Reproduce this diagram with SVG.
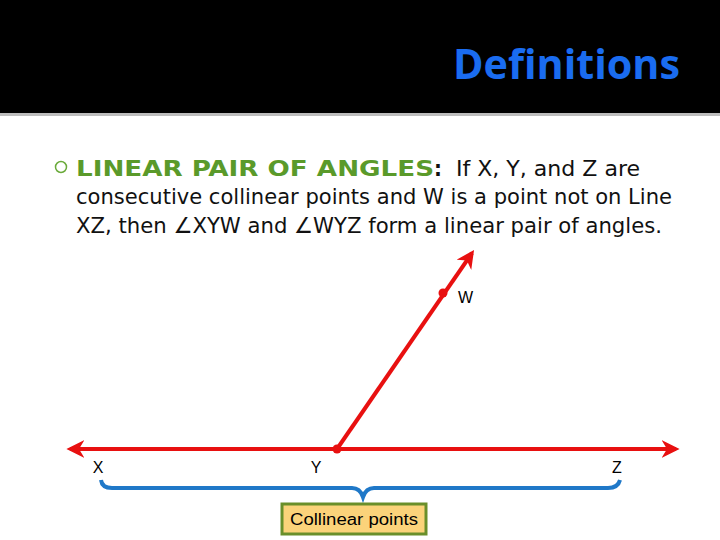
<svg xmlns="http://www.w3.org/2000/svg" width="720" height="540" viewBox="0 0 720 540">
<defs>
<style>
.body{font-family:"DejaVu Sans","Liberation Sans",sans-serif;font-size:22px;font-stretch:condensed;fill:#111}
.lbl{font-family:"Liberation Sans","DejaVu Sans",sans-serif;font-size:16px;fill:#000}
.red{stroke:#e81010;stroke-width:4;fill:none}
</style>
<marker id="ah" viewBox="0 0 10 10" refX="8" refY="5" markerWidth="4.5" markerHeight="4.5" orient="auto-start-reverse" markerUnits="strokeWidth">
<path d="M0,0 L10,5 L0,10 L3,5 z" fill="#e81010"/>
</marker>
</defs>
<rect x="0" y="0" width="720" height="540" fill="#fff"/>
<rect x="0" y="0" width="720" height="113" fill="#000"/>
<rect x="0" y="113" width="720" height="3" fill="#bdbdbd"/>
<text x="680" y="79" text-anchor="end" font-family="'Open Sans','DejaVu Sans',sans-serif" font-weight="bold" font-size="41" fill="#1a6cf0" textLength="227" lengthAdjust="spacingAndGlyphs">Definitions</text>

<g id="text">
<circle cx="61" cy="167" r="5.5" fill="none" stroke="#6aaa3a" stroke-width="1.5"/>
<text x="76" y="176" class="body"><tspan font-weight="bold" fill="#5a9a2a" textLength="358" lengthAdjust="spacingAndGlyphs">LINEAR PAIR OF ANGLES</tspan><tspan font-weight="bold" fill="#111">:</tspan></text>
<text x="456" y="176" class="body" textLength="184" lengthAdjust="spacingAndGlyphs">If X, Y, and Z are</text>
<text x="76" y="204" class="body" textLength="596" lengthAdjust="spacingAndGlyphs">consecutive collinear points and W is a point not on Line</text>
<text x="76" y="233" class="body" textLength="586" lengthAdjust="spacingAndGlyphs">XZ, then ∠XYW and ∠WYZ form a linear pair of angles.</text>
</g>

<g id="connectors">
<line x1="70" y1="449" x2="676" y2="449" class="red" marker-start="url(#ah)" marker-end="url(#ah)"/>
<line x1="337" y1="449" x2="472" y2="253" class="red" marker-end="url(#ah)"/>
<path d="M101,480 Q102,488 112,488 L352,488 Q360,488 363,497 Q366,488 374,488 L608,488 Q618,488 620,480" fill="none" stroke="#1f78c8" stroke-width="4"/>
</g>

<g id="W"><circle cx="443" cy="293" r="4.5" fill="#e81010"/><text x="458" y="303" class="lbl">W</text></g>
<g id="Y"><circle cx="337" cy="449" r="4.5" fill="#e81010"/><text x="316" y="473" class="lbl" text-anchor="middle">Y</text></g>
<g id="X"><text x="98" y="473" class="lbl" text-anchor="middle">X</text></g>
<g id="Z"><text x="617" y="473" class="lbl" text-anchor="middle">Z</text></g>

<g id="collinear">
<rect x="282" y="504" width="144" height="30" fill="#fbd37a" stroke="#6a8f2a" stroke-width="3"/>
<text x="354" y="525" class="lbl" text-anchor="middle" font-family="'DejaVu Sans',sans-serif" font-size="16" textLength="128" lengthAdjust="spacingAndGlyphs">Collinear points</text>
</g>
</svg>
